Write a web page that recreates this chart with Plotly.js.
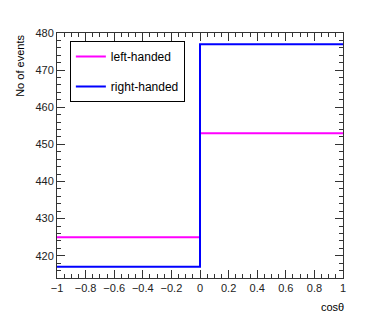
<!DOCTYPE html>
<html>
<head>
<meta charset="utf-8">
<script src="https://cdn.plot.ly/plotly-3.0.1.min.js"></script>
<style>
  html, body { margin: 0; padding: 0; background: #fff; }
  #chart { width: 382px; height: 327px; }
</style>
</head>
<body>
<div id="chart"></div>
<script>
// bin edges in cos(theta) and the content of each bin
const binEdges = [-1, 0, 1];
const leftHanded = [425, 453];
const rightHanded = [417, 477];
const seriesNames = ['left-handed', 'right-handed'];

// step line: repeat the last bin value at the right edge
function stepY(vals) {
    return vals.concat([vals[vals.length - 1]]);
}

const traceLeft = {
    x: binEdges,
    y: stepY(leftHanded),
    mode: 'lines',
    type: 'scatter',
    name: seriesNames[0],
    legendgroup: 'a',
    line: { color: '#ff00ff', width: 2, shape: 'hv' },
    hoverinfo: 'skip'
};

const traceRight = {
    x: binEdges,
    y: stepY(rightHanded),
    mode: 'lines',
    type: 'scatter',
    name: seriesNames[1],
    legendgroup: 'b',
    line: { color: '#0000ff', width: 2, shape: 'hv' },
    hoverinfo: 'skip'
};

const axisCommon = {
    showgrid: false,
    zeroline: false,
    showline: true,
    linecolor: '#333',
    linewidth: 1,
    mirror: 'allticks',
    ticks: 'inside',
    ticklen: 8,
    tickwidth: 1,
    tickcolor: '#333',
    tickfont: { family: 'Liberation Sans, Arial, sans-serif', size: 11, color: '#222' }
};

const layout = {
    width: 382,
    height: 327,
    margin: { l: 57, r: 39, t: 33, b: 49 },
    paper_bgcolor: '#fff',
    plot_bgcolor: '#fff',
    showlegend: true,
    legend: {
        x: 0.045, y: 0.967,
        xanchor: 'left', yanchor: 'top',
        bgcolor: '#fff',
        bordercolor: '#000',
        borderwidth: 1,
        traceorder: 'grouped',
        tracegroupgap: 11,
        font: { family: 'Liberation Sans, Arial, sans-serif', size: 12, color: '#000' }
    },
    xaxis: Object.assign({}, axisCommon, {
        range: [-1, 1],
        tick0: -1,
        dtick: 0.2,
        minor: { dtick: 0.05, ticks: 'inside', ticklen: 4, tickcolor: '#333' }
    }),
    yaxis: Object.assign({}, axisCommon, {
        range: [414, 480],
        tick0: 420,
        dtick: 10,
        minor: { dtick: 2, ticks: 'inside', ticklen: 4, tickcolor: '#333' }
    }),
    annotations: [
        {
            text: 'No of events',
            xref: 'paper', yref: 'paper',
            x: -0.13, y: 1,
            xanchor: 'center', yanchor: 'top',
            textangle: -90,
            showarrow: false,
            font: { family: 'Liberation Sans, Arial, sans-serif', size: 11, color: '#000' }
        },
        {
            text: 'cosθ',
            xref: 'paper', yref: 'paper',
            x: 1.01, y: -0.085,
            xanchor: 'right', yanchor: 'top',
            showarrow: false,
            font: { family: 'Liberation Sans, Arial, sans-serif', size: 11, color: '#000' }
        }
    ]
};

Plotly.newPlot('chart', [traceLeft, traceRight], layout, { displayModeBar: false, staticPlot: true });
</script>
</body>
</html>
